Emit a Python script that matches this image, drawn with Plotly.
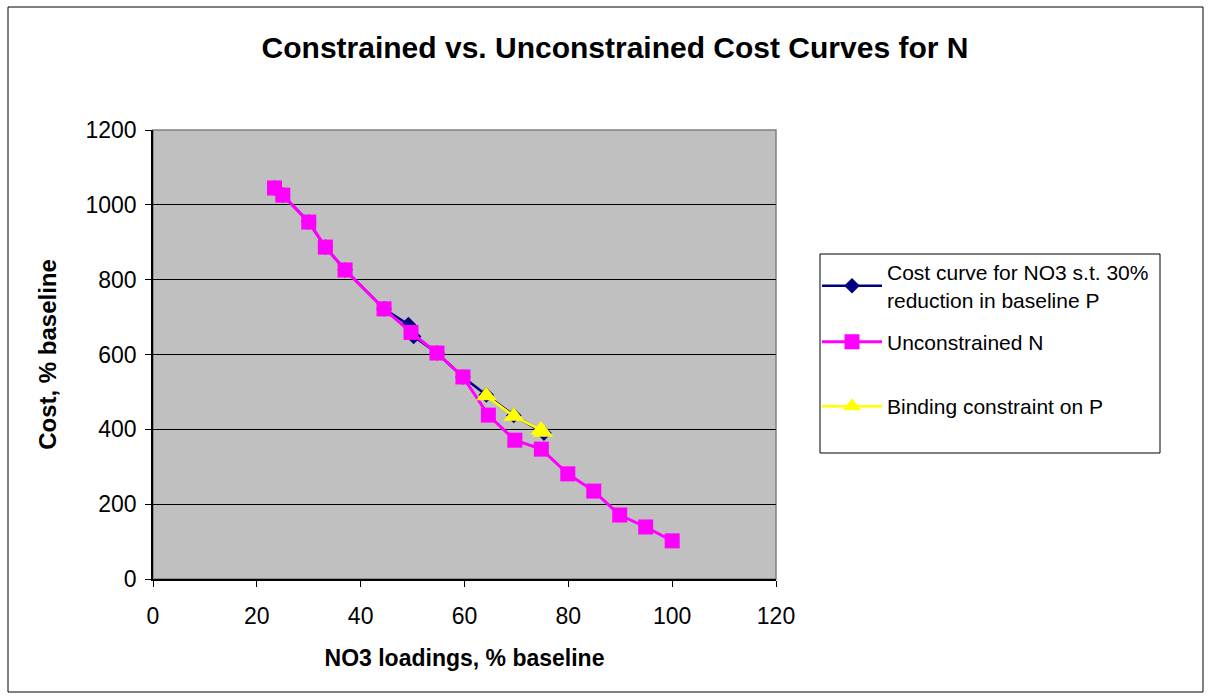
import plotly.graph_objects as go

# Data
unc_x = [23.4, 25.0, 30.0, 33.2, 37.0, 44.5, 49.7, 54.7, 59.7, 64.6, 69.7, 74.8, 79.9, 84.9, 89.9, 94.9, 100.0]
unc_y = [1045, 1026, 954, 887, 826, 722, 659, 604, 540, 438, 371, 347, 281, 235, 171, 139, 102]

con_x = [23.4, 25.0, 30.0, 33.2, 37.0, 44.5, 49.2, 50.2, 54.7, 59.7, 64.2, 69.5, 75.3]
con_y = [1045, 1026, 954, 887, 826, 722, 680, 648, 604, 540, 492, 437, 390]

bind_x = [64.2, 69.5, 74.7, 75.1]
bind_y = [490, 435, 398, 392]

x_ticks = [0, 20, 40, 60, 80, 100, 120]
y_ticks = [0, 200, 400, 600, 800, 1000, 1200]

FONT = "Liberation Sans, Arial, sans-serif"
FS = 23
LFS = 21

W, H = 1212, 700
PL, PR, PT, PB = 153, 776, 130, 579
pw, ph = PR - PL, PB - PT

def px(x):
    return (x - PL) / pw

def py(y):
    return (PB - y) / ph

fig = go.Figure()
fig.add_trace(go.Scatter(
    x=con_x, y=con_y, mode="lines+markers",
    name="Cost curve for NO3 s.t. 30%<br>reduction in baseline P",
    legendgroup="a", legend="legend",
    line=dict(color="#000080", width=2.5),
    marker=dict(symbol="diamond", size=12, color="#000080"),
))
fig.add_trace(go.Scatter(
    x=unc_x, y=unc_y, mode="lines+markers",
    name="Unconstrained N",
    legendgroup="b", legend="legend",
    line=dict(color="#FF00FF", width=3),
    marker=dict(symbol="square", size=15, color="#FF00FF"),
))
fig.add_trace(go.Scatter(
    x=bind_x, y=bind_y, mode="lines+markers",
    name="Binding constraint on P",
    legendgroup="d", legend="legend2",
    line=dict(color="#FFFF00", width=2.5),
    marker=dict(symbol="triangle-up", size=18, color="#FFFF00"),
))

shapes = [
    # outer chart frame
    dict(type="rect", xref="paper", yref="paper",
         x0=px(8), x1=px(1203), y0=py(692), y1=py(7),
         line=dict(color="black", width=1), fillcolor="rgba(0,0,0,0)", layer="below"),
    # plot area border
    dict(type="rect", xref="paper", yref="paper",
         x0=0, x1=1, y0=0, y1=1,
         line=dict(color="#808080", width=1.5), fillcolor="rgba(0,0,0,0)", layer="below"),
    # legend box
    dict(type="rect", xref="paper", yref="paper",
         x0=px(820), x1=px(1160), y0=py(453), y1=py(254),
         line=dict(color="black", width=1), fillcolor="white", layer="below"),
]

legend_common = dict(xanchor="left", yanchor="top",
                     bgcolor="rgba(0,0,0,0)", borderwidth=0,
                     font=dict(family=FONT, size=LFS, color="black"),
                     itemwidth=60)

fig.update_layout(
    width=W, height=H,
    margin=dict(l=PL, r=W - PR, t=PT, b=H - PB, pad=0),
    paper_bgcolor="white",
    plot_bgcolor="#C0C0C0",
    font=dict(family=FONT, size=FS, color="black"),
    title=dict(text="<b>Constrained vs. Unconstrained Cost Curves for N</b>",
               x=px(615), xref="paper", xanchor="center",
               y=1 - 47 / H, yanchor="middle",
               font=dict(family=FONT, size=30, color="black")),
    showlegend=True,
    legend=dict(x=px(817), y=py(252), traceorder="grouped", tracegroupgap=12,
                **legend_common),
    legend2=dict(x=px(817), y=py(386), **legend_common),
    shapes=shapes,
)

fig.update_xaxes(
    range=[0, 120], tickvals=x_ticks, ticktext=[str(v) for v in x_ticks],
    showgrid=False, zeroline=False,
    showline=True, linecolor="black", linewidth=1.5,
    ticks="outside", ticklen=6, tickcolor="black", tickwidth=1,
    ticklabelstandoff=10,
    tickfont=dict(family=FONT, size=FS),
    title=dict(text="<b>NO3 loadings, % baseline</b>", standoff=22,
               font=dict(family=FONT, size=FS)),
)
fig.update_yaxes(
    range=[0, 1200], tickvals=y_ticks, ticktext=[str(v) for v in y_ticks],
    showgrid=True, gridcolor="black", gridwidth=1, zeroline=False,
    showline=True, linecolor="black", linewidth=1.5,
    ticks="outside", ticklen=6, tickcolor="black", tickwidth=1,
    ticklabelstandoff=4,
    tickfont=dict(family=FONT, size=FS),
    title=dict(text="<b>Cost, % baseline</b>", standoff=22,
               font=dict(family=FONT, size=FS + 1)),
)

fig.write_html("out.html")
